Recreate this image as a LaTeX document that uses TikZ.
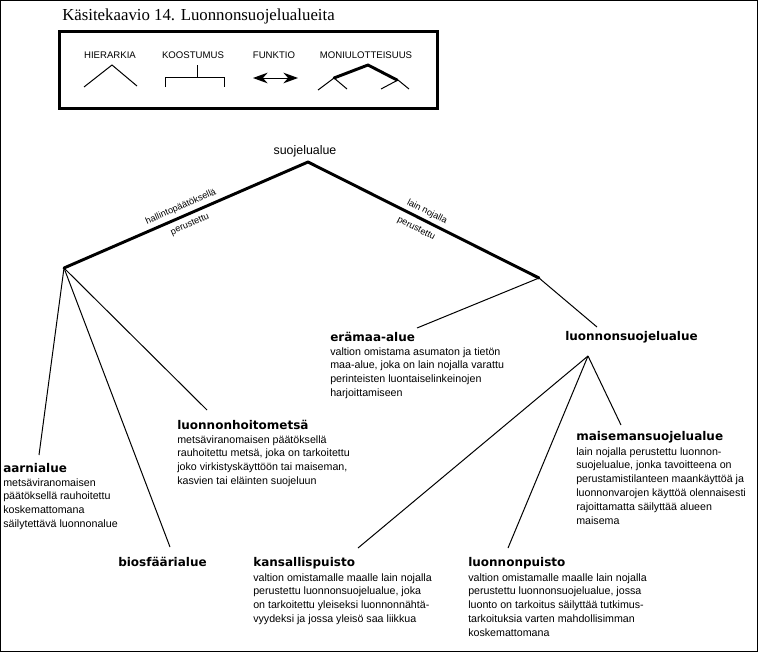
\documentclass[tikz,border=0pt]{standalone}
\usepackage{fontspec}
\setmainfont{Liberation Serif}
\newfontfamily\bodyf{Liberation Sans}
\newfontfamily\headf{DejaVu Sans}
\usetikzlibrary{arrows.meta}
\begin{document}
\begin{tikzpicture}[x=0.75pt,y=-0.75pt,
  thin line/.style={line width=0.75pt},
  thick line/.style={line width=2.2pt, line cap=round, line join=round},
  head/.style={anchor=west, inner sep=0pt, font=\headf\bfseries\fontsize{9}{10}\selectfont},
  body/.style={anchor=north west, inner sep=0pt, align=left, font=\bodyf\fontsize{8}{10.4}\selectfont},
  legendlabel/.style={inner sep=0pt, font=\bodyf\fontsize{7.2}{8}\selectfont},
  edgelabel/.style={inner sep=0pt, font=\bodyf\fontsize{6.9}{8}\selectfont}
]
\useasboundingbox (0,0) rectangle (759,653);
% outer frame
\draw[thin line] (0.5,0.5) rectangle (757.5,651.5);
% title
\node[anchor=west, inner sep=0pt, font=\fontsize{12.6}{14}\selectfont] (title) at (62,16) {Käsitekaavio 14. Luonnonsuojelualueita};
% legend box
\draw[line width=2.25pt] (59,31) rectangle (437,108);
\node[legendlabel] (lh) at (110,55) {HIERARKIA};
\node[legendlabel] (lk) at (193,55) {KOOSTUMUS};
\node[legendlabel] (lf) at (274,55) {FUNKTIO};
\node[legendlabel] (lm) at (366,55) {MONIULOTTEISUUS};
\draw[thin line] (84,87) -- (112,65) -- (137,86);
\draw[thin line] (197,65) -- (197,77);
\draw[thin line] (165,87) -- (165,77) -- (224,77) -- (224,87);
\draw[thin line, {Stealth[length=11pt,width=8pt]}-{Stealth[length=11pt,width=8pt]}] (253,78) -- (298,78);
\draw[thick line] (334,78) -- (368,65) -- (397,80);
\draw[thin line] (318,90) -- (334,78) -- (347,89);
\draw[thin line] (381,89) -- (398,80) -- (409,89);

% tree coordinates
\coordinate (apex) at (308,162);
\coordinate (L) at (64,268);
\coordinate (R) at (539,278);
\coordinate (LS) at (588,356);
\coordinate (eaarni) at (39,455);
\coordinate (ebios) at (170,547);
\coordinate (ehoito) at (207,410);
\coordinate (eera) at (417,328);
\coordinate (els) at (597,327);
\coordinate (ekans) at (358,548);
\coordinate (elp) at (508,548);
\coordinate (emais) at (621,425);

\node[inner sep=0pt, font=\bodyf\fontsize{9.3}{11}\selectfont] (root) at (305,151) {suojelualue};
\draw[thick line] (L) -- (apex) -- (R);
\node[edgelabel, rotate=23.5] (hl1) at (181,207) {hallintopäätöksellä};
\node[edgelabel, rotate=23.5] (hl2) at (190,225) {perustettu};
\node[edgelabel, rotate=-26.7] (ll1) at (427,212) {lain nojalla};
\node[edgelabel, rotate=-26.7] (ll2) at (416,229) {perustettu};

\draw[thin line] (L) -- (eaarni);
\draw[thin line] (L) -- (ebios);
\draw[thin line] (L) -- (ehoito);
\draw[thin line] (R) -- (eera);
\draw[thin line] (R) -- (els);
\draw[thin line] (LS) -- (ekans);
\draw[thin line] (LS) -- (elp);
\draw[thin line] (LS) -- (emais);

% nodes
\node[head] (era) at (330,337) {erämaa-alue};
\node[body] (erab) at (330,347) {valtion omistama asumaton ja tietön\\maa-alue, joka on lain nojalla varattu\\perinteisten luontaiselinkeinojen\\harjoittamiseen};
\node[head] (ls) at (565,337) {luonnonsuojelualue};
\node[head] (hoito) at (177,425) {luonnonhoitometsä};
\node[body] (hoitob) at (177,435) {metsäviranomaisen päätöksellä\\rauhoitettu metsä, joka on tarkoitettu\\joko virkistyskäyttöön tai maiseman,\\kasvien tai eläinten suojeluun};
\node[head] (aarni) at (3,468) {aarnialue};
\node[body] (aarnib) at (3,478) {metsäviranomaisen\\päätöksellä rauhoitettu\\koskemattomana\\säilytettävä luonnonalue};
\node[head] (mais) at (576,437) {maisemansuojelualue};
\node[body] (maisb) at (576,447) {lain nojalla perustettu luonnon-\\suojelualue, jonka tavoitteena on\\perustamistilanteen maankäyttöä ja\\luonnonvarojen käyttöä olennaisesti\\rajoittamatta säilyttää alueen\\maisema};
\node[head] (bios) at (118,562) {biosfäärialue};
\node[head] (kans) at (253,563) {kansallispuisto};
\node[body] (kansb) at (253,573) {valtion omistamalle maalle lain nojalla\\perustettu luonnonsuojelualue, joka\\on tarkoitettu yleiseksi luonnonnähtä-\\vyydeksi ja jossa yleisö saa liikkua};
\node[head] (lp) at (468,563) {luonnonpuisto};
\node[body] (lpb) at (468,573) {valtion omistamalle maalle lain nojalla\\perustettu luonnonsuojelualue, jossa\\luonto on tarkoitus säilyttää tutkimus-\\tarkoituksia varten mahdollisimman\\koskemattomana};
\end{tikzpicture}
\end{document}
